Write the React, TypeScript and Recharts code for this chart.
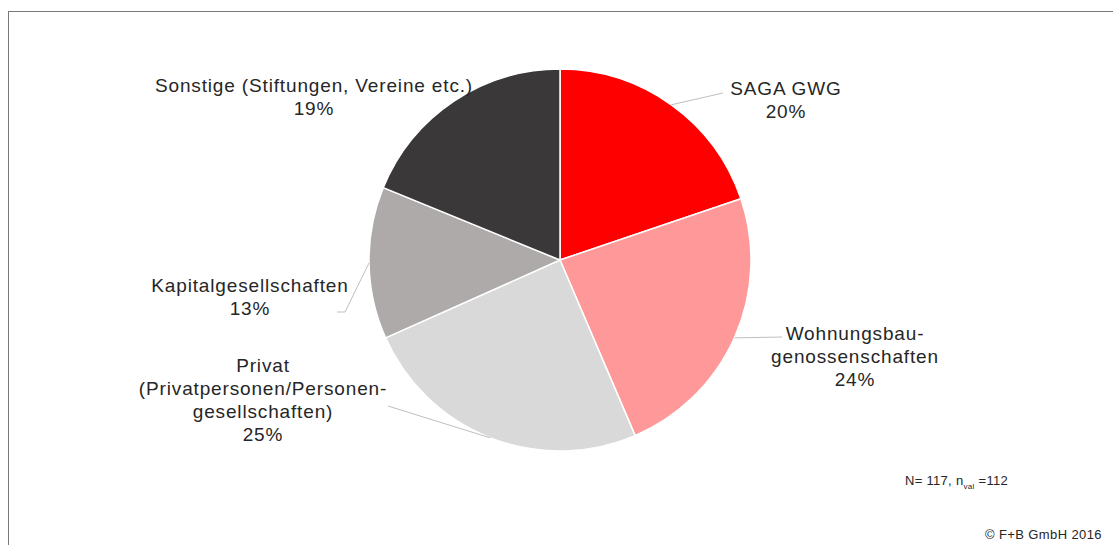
import { PieChart, Pie, Cell } from "recharts";

// Eigentümerstruktur – Anteile in %
const categories = [
  "SAGA GWG",
  "Wohnungsbau-\ngenossenschaften",
  "Privat\n(Privatpersonen/Personen-\ngesellschaften)",
  "Kapitalgesellschaften",
  "Sonstige (Stiftungen, Vereine etc.)",
];
const shares = [20, 24, 25, 13, 19];
const colors = ["#ff0000", "#ff9999", "#d9d9d9", "#aeaaaa", "#3a3838"];

const footnote = "N= 117, n";
const footnoteSub = "val";
const footnoteEnd = " =112";
const copyright = "© F+B GmbH 2016";

// label placement: text centre / first baseline, and leader line bend points
const LABEL_LAYOUT = [
  { tx: 786, ty: 95, pts: [[723, 93]] },
  { tx: 855, ty: 340, pts: [[782, 337]] },
  { tx: 263, ty: 372, pts: [[388, 406]] },
  { tx: 250, ty: 292, pts: [[345, 312], [337, 312]] },
  { tx: 314, ty: 92, pts: [] },
];

const RAD = Math.PI / 180;
const FONT = "'Liberation Sans', Arial, sans-serif";
const LINE_H = 23;

const data = categories.map((name, i) => ({ name, value: shares[i] }));

function renderLabel(props: any) {
  const { cx, cy, midAngle, outerRadius, index } = props;
  const layout = LABEL_LAYOUT[index];
  const ex = cx + outerRadius * Math.cos(-midAngle * RAD);
  const ey = cy + outerRadius * Math.sin(-midAngle * RAD);
  const lines = [...categories[index].split("\n"), `${shares[index]}%`];
  const path = [[ex, ey], ...layout.pts];
  return (
    <g key={`lbl-${index}`}>
      {layout.pts.length > 0 && (
        <polyline
          points={path.map((p) => p.join(",")).join(" ")}
          fill="none"
          stroke="#bfbfbf"
          strokeWidth={1}
        />
      )}
      <text
        x={layout.tx}
        y={layout.ty}
        textAnchor="middle"
        fill="#262626"
        fontSize={19}
        letterSpacing={0.85}
        fontFamily={FONT}
      >
        {lines.map((l, j) => (
          <tspan key={j} x={layout.tx} y={layout.ty + j * LINE_H}>
            {l}
          </tspan>
        ))}
      </text>
    </g>
  );
}

export default function App() {
  return (
    <div style={{ position: "absolute", left: 0, top: 0, width: 1113, height: 545, background: "#fff", overflow: "hidden" }}>
      {/* frame: only top and left edges are visible in the crop */}
      <div
        style={{
          position: "absolute",
          left: 8,
          top: 11,
          width: 1200,
          height: 600,
          borderTop: "1.5px solid #7a7a7a",
          borderLeft: "1.5px solid #7a7a7a",
        }}
      />
      <div style={{ position: "absolute", left: 0, top: 0 }}>
        <PieChart width={1113} height={545} margin={{ top: 0, right: 0, bottom: 0, left: 0 }}>
          <Pie
            data={data}
            dataKey="value"
            nameKey="name"
            cx={560}
            cy={260}
            outerRadius={191}
            startAngle={90}
            endAngle={-270}
            stroke="#ffffff"
            strokeWidth={1.5}
            label={renderLabel}
            labelLine={false}
            isAnimationActive={false}
          >
            {data.map((d, i) => (
              <Cell key={d.name} fill={colors[i]} />
            ))}
          </Pie>
        </PieChart>
      </div>
      <div
        style={{
          position: "absolute",
          left: 905,
          top: 473,
          fontFamily: FONT,
          fontSize: 13,
          color: "#262626",
          letterSpacing: 0.3,
          whiteSpace: "nowrap",
        }}
      >
        {footnote}
        <sub style={{ fontSize: 8 }}>{footnoteSub}</sub>
        {footnoteEnd}
      </div>
      <div
        style={{
          position: "absolute",
          right: 11,
          top: 527,
          fontFamily: FONT,
          fontSize: 13,
          color: "#262626",
          letterSpacing: 0.4,
          whiteSpace: "nowrap",
        }}
      >
        {copyright}
      </div>
    </div>
  );
}
